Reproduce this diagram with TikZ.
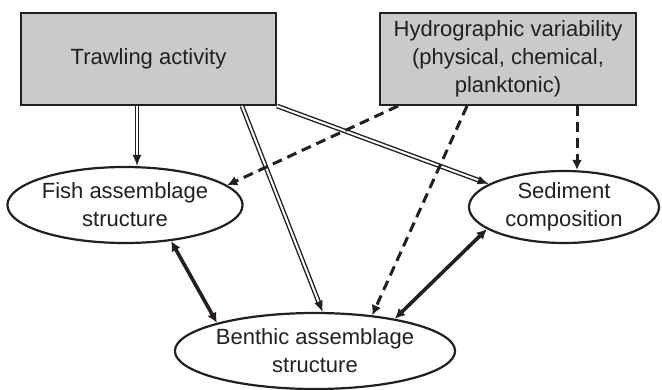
\documentclass[tikz,border=0pt]{standalone}
\usepackage{fontspec}
\setmainfont{Liberation Sans}
\usetikzlibrary{arrows.meta,shapes.geometric}
\definecolor{boxgray}{RGB}{202,202,202}
\definecolor{ink}{RGB}{35,31,32}
\begin{document}
\begin{tikzpicture}[x=1pt,y=-1pt,
  font=\fontsize{22}{28}\selectfont,
  box/.style={draw=ink,fill=boxgray,line width=2pt,minimum width=255pt,minimum height=92pt,inner sep=0pt,align=center,text=ink},
  oval/.style={draw=ink,ellipse,line width=2.2pt,inner sep=0pt,align=center,text=ink},
  dbl/.style={draw=ink,double,line width=1.4pt,double distance=2pt,-{Latex[length=11pt,width=9pt]}},
  dsh/.style={draw=ink,line width=3pt,dash pattern=on 10pt off 6pt,-{Latex[length=10pt,width=10pt]}},
  bid/.style={draw=ink,line width=3.6pt,{Latex[length=10pt,width=10pt]}-{Latex[length=10pt,width=10pt]}}]
\useasboundingbox (0,0) rectangle (662,389);
\node[box] (trawl) at (148.5,59) {Trawling activity};
\node[box,minimum width=256pt] (hydro) at (508,59) {Hydrographic variability\\(physical, chemical,\\planktonic)};
\node[oval,minimum width=226pt,minimum height=76pt] (fish) at (125,205) {Fish assemblage\\structure};
\node[oval,minimum width=190pt,minimum height=72pt] (sed) at (564,207) {Sediment\\composition};
\node[oval,minimum width=244pt,minimum height=76pt] (ben) at (315,351) {Benthic assemblage\\structure};
\draw[dbl] ([xshift=-11.5pt]trawl.south) -- ([xshift=12pt]fish.north);
\draw[dbl] ([xshift=93.5pt]trawl.south) -- (ben.79);
\draw[dbl] (trawl.south east) -- (sed.163);
\draw[dsh] ([xshift=-110pt]hydro.south) -- (fish.11);
\draw[dsh] ([xshift=-41pt]hydro.south) -- (ben.32);
\draw[dsh] ([xshift=69pt]hydro.south) -- ([xshift=13pt]sed.north);
\draw[bid] (fish.-38) -- (ben.164);
\draw[bid] (sed.196) -- (ben.22);
\end{tikzpicture}
\end{document}
